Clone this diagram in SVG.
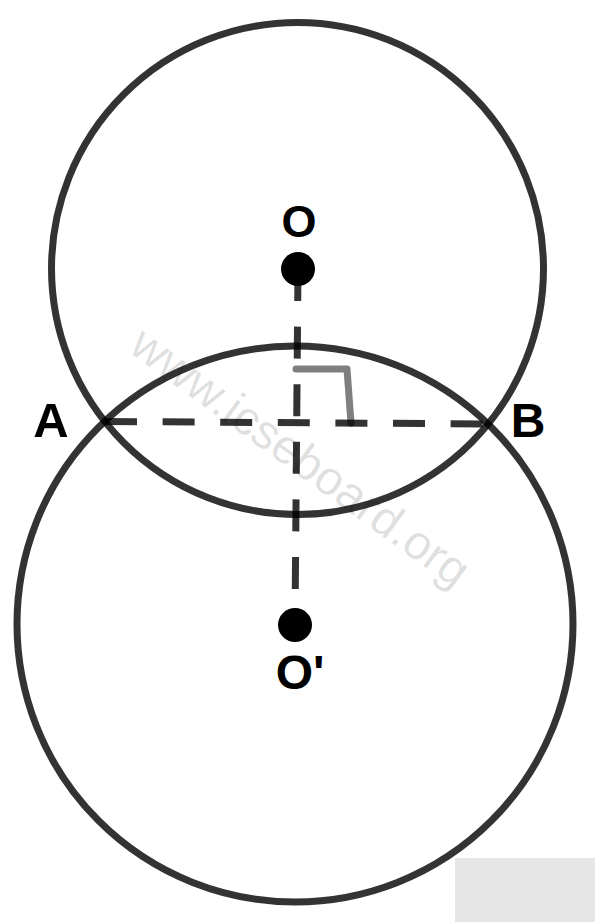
<svg xmlns="http://www.w3.org/2000/svg" width="595" height="922" viewBox="0 0 595 922">
<style>
.circ{fill:none;stroke:#000;stroke-opacity:0.8;stroke-width:7}
.dash{fill:none;stroke:#000;stroke-opacity:0.8;stroke-width:7;stroke-dasharray:32 25.6}
.lbl{font-family:"Liberation Sans",Arial,sans-serif;font-weight:bold;fill:#000;text-anchor:middle}
.wm{font-family:"Liberation Sans",Arial,sans-serif;fill:#000;fill-opacity:0.12;text-anchor:middle}
</style>
<rect width="595" height="922" fill="#fff"/>
<text class="wm" font-size="48" transform="translate(291,470) rotate(36)">www.icseboard.org</text>
<rect x="455" y="858" width="140" height="64" fill="#e6e6e6"/>
<g id="circle-O"><circle class="circ" cx="297.5" cy="268.5" r="246"/></g>
<g id="circle-O2"><circle class="circ" cx="295" cy="624" r="278"/></g>
<g id="connectors">
<line class="dash" x1="298" y1="269" x2="295" y2="625"/>
<line class="dash" x1="105" y1="421.5" x2="490" y2="424"/>
<path d="M296,369 H347 L351,423" fill="none" stroke="#000" stroke-opacity="0.5" stroke-width="7" stroke-linecap="round" stroke-linejoin="round"/>
</g>
<g id="node-O"><circle cx="298" cy="269" r="17" fill="#000"/><text class="lbl" x="299" y="237" font-size="45">O</text></g>
<g id="node-O2"><circle cx="295" cy="625" r="17" fill="#000"/><text class="lbl" x="300" y="689" font-size="48">O'</text></g>
<g id="node-A"><text class="lbl" x="51" y="437" font-size="49">A</text></g>
<g id="node-B"><text class="lbl" x="528" y="437" font-size="48">B</text></g>
</svg>
